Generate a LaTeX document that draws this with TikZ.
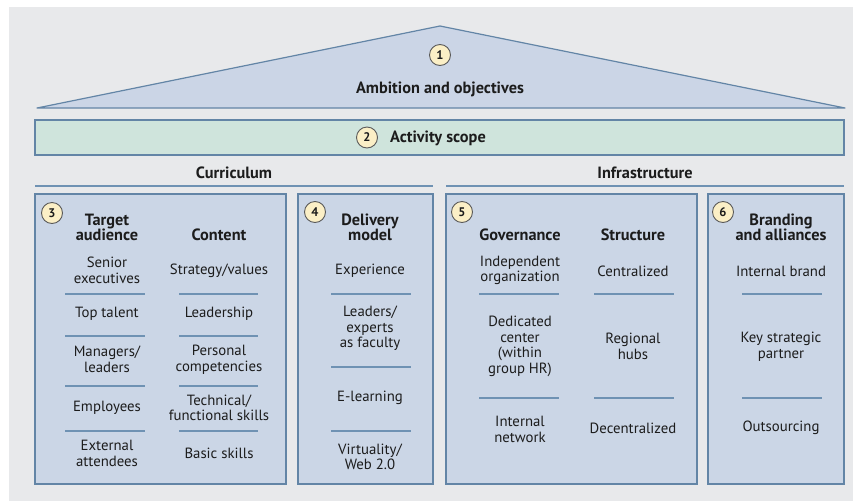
\documentclass[tikz,border=0pt]{standalone}
\usepackage{fontspec}
\setmainfont{PT Sans}
\definecolor{pagebg}{HTML}{E8E9EB}
\definecolor{roofill}{HTML}{CBD5E6}
\definecolor{panelfill}{HTML}{CBD6E6}
\definecolor{scopefill}{HTML}{CFE4DC}
\definecolor{edge}{HTML}{6385A6}
\definecolor{sepcol}{HTML}{6F92B3}
\definecolor{numfill}{HTML}{FBEFC6}
\definecolor{numline}{HTML}{5A5A5A}
\definecolor{ink}{HTML}{1C1C1C}
\begin{document}
\begin{tikzpicture}[x=1pt,y=-1pt,
  item/.style={align=center, font=\fontsize{14.8}{15.5}\selectfont, text=ink, inner sep=0pt},
  head/.style={align=center, font=\bfseries\fontsize{16.3}{15.5}\selectfont, text=ink, inner sep=0pt},
  num/.style={circle, draw=numline, fill=numfill, line width=0.9pt, minimum size=21pt, inner sep=0pt,
              font=\bfseries\fontsize{12.5}{12.5}\selectfont, text=ink},
  panel/.style={draw=edge, fill=panelfill, line width=1.1pt},
  sep/.style={draw=sepcol, line width=1.4pt},
]
% page
\useasboundingbox (0,0) rectangle (853,501);
\fill[white] (0,0) rectangle (853,501);
\fill[pagebg] (9,7) rectangle (853,501);

% roof and scope bar
\filldraw[fill=roofill, draw=edge, line width=1.2pt, line join=round]
  (37,108) -- (440,26) -- (845,108) -- cycle;
\filldraw[fill=scopefill, draw=edge, line width=1.1pt] (35,120) rectangle (844,155);
\node[num] (n1) at (440,55) {1};
\node[head] (ambition) at (440,89) {Ambition and objectives};
\node[num] (n2) at (367,137.5) {2};
\node[head] (scope) at (438,138) {Activity scope};

% section headings
\node[head] (curr) at (234,173) {Curriculum};
\node[head] (infra) at (645,173) {Infrastructure};
\draw[sep] (35,186) -- (433,186);
\draw[sep] (446,186) -- (844,186);

% panels
\draw[panel] (35,194) rectangle (286,484);
\draw[panel] (298,194) rectangle (433,484);
\draw[panel] (446,194) rectangle (697,484);
\draw[panel] (708,194) rectangle (844,484);
\node[num] (n3) at (52,213) {3};
\node[num] (n4) at (315,212) {4};
\node[num] (n5) at (462,212) {5};
\node[num] (n6) at (723,212) {6};

% target audience
\node[head] (ta) at (107,227.5) {Target\\audience};
\node[item] (ta1) at (107,270.5) {Senior\\executives};
\node[item] (ta2) at (107,314) {Top talent};
\node[item] (ta3) at (107,359.5) {Managers/\\leaders};
\node[item] (ta4) at (107,408) {Employees};
\node[item] (ta5) at (107,453.5) {External\\attendees};
\foreach \y in {294,336,386,431} \draw[sep] (65,\y) -- (145,\y);

% content
\node[head] (ct) at (219,235) {Content};
\node[item] (ct1) at (219,271) {Strategy/values};
\node[item] (ct2) at (219,314) {Leadership};
\node[item] (ct3) at (219,359.5) {Personal\\competencies};
\node[item] (ct4) at (219,408) {Technical/\\functional skills};
\node[item] (ct5) at (219,453) {Basic skills};
\foreach \y in {294,336,386,431} \draw[sep] (179,\y) -- (258,\y);

% delivery model
\node[head] (dm) at (370,227.5) {Delivery\\model};
\node[item] (dm1) at (370,271) {Experience};
\node[item] (dm2) at (370,328.5) {Leaders/\\experts\\as faculty};
\node[item] (dm3) at (370,398) {E-learning};
\node[item] (dm4) at (370,457) {Virtuality/\\Web 2.0};
\foreach \y in {294,367,431} \draw[sep] (331,\y) -- (411,\y);

% governance
\node[head] (gv) at (520,235) {Governance};
\node[item] (gv1) at (520,270.5) {Independent\\organization};
\node[item] (gv2) at (520,346.5) {Dedicated\\center\\(within\\group HR)};
\node[item] (gv3) at (520,429.5) {Internal\\network};
\foreach \y in {294,398} \draw[sep] (479,\y) -- (559,\y);

% structure
\node[head] (st) at (633,235) {Structure};
\node[item] (st1) at (633,271) {Centralized};
\node[item] (st2) at (633,346.5) {Regional\\hubs};
\node[item] (st3) at (633,428) {Decentralized};
\foreach \y in {294,398} \draw[sep] (594,\y) -- (674,\y);

% branding and alliances
\node[head] (br) at (781,227.5) {Branding\\and alliances};
\node[item] (br1) at (781,271) {Internal brand};
\node[item] (br2) at (781,346.5) {Key strategic\\partner};
\node[item] (br3) at (781,428) {Outsourcing};
\foreach \y in {294,398} \draw[sep] (742,\y) -- (822,\y);
\end{tikzpicture}
\end{document}
